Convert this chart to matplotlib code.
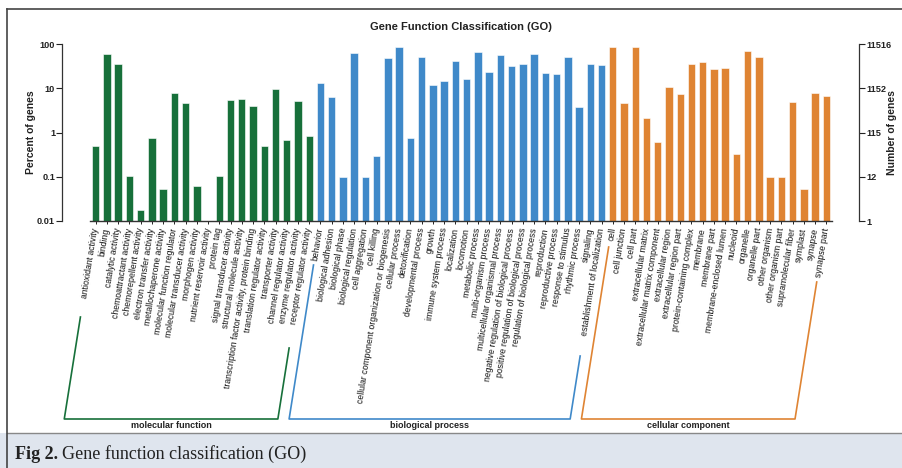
import numpy as np
import matplotlib
matplotlib.use('Agg')
import matplotlib.pyplot as plt
from matplotlib.lines import Line2D
from matplotlib.patches import Rectangle

plt.rcParams['font.family'] = ['Liberation Sans', 'DejaVu Sans']

# ---------------- data ----------------
mf_terms = ["antioxidant activity", "binding", "catalytic activity", "chemoattractant activity",
            "chemorepellent activity", "electron transfer activity", "metallochaperone activity",
            "molecular function regulator", "molecular transducer activity", "morphogen activity",
            "nutrient reservoir activity", "protein tag", "signal transducer activity",
            "structural molecule activity", "transcription factor activity, protein binding",
            "translation regulator activity", "transporter activity", "channel regulator activity",
            "enzyme regulator activity", "receptor regulator activity"]
mf_pct = [0.50, 59, 35, 0.105, 0.0174, 0.76, 0.053, 7.8, 4.6, 0.062,
          0.0, 0.105, 5.4, 5.8, 3.9, 0.49, 9.6, 0.68, 5.2, 0.82]

bp_terms = ["behavior", "biological adhesion", "biological phase", "biological regulation",
            "cell aggregation", "cell killing", "cellular component organization or biogenesis",
            "cellular process", "detoxification", "developmental process", "growth",
            "immune system process", "localization", "locomotion", "metabolic process",
            "multi-organism process", "multicellular organismal process",
            "negative regulation of biological process", "positive regulation of biological process",
            "regulation of biological process", "reproduction", "reproductive process",
            "response to stimulus", "rhythmic process", "signaling", "establishment of localization"]
bp_pct = [12.9, 6.3, 0.097, 64, 0.097, 0.30, 47.5, 85, 0.76, 51, 12.0, 14.4, 42, 16.5, 66,
          23.3, 56, 32, 35, 59, 21.7, 21, 51, 3.7, 35, 33.8]

cc_terms = ["cell", "cell junction", "cell part", "extracellular matrix",
            "extracellular matrix component", "extracellular region", "extracellular region part",
            "protein-containing complex", "membrane", "membrane part", "membrane-enclosed lumen",
            "nucleoid", "organelle", "organelle part", "other organism", "other organism part",
            "supramolecular fiber", "symplast", "synapse", "synapse part"]
cc_pct = [87, 4.6, 87, 2.1, 0.61, 10.8, 7.5, 35.7, 39.8, 27.7, 28.7, 0.32, 69, 51.6,
          0.097, 0.097, 5.0, 0.052, 7.9, 6.7]

groups = ["molecular function", "biological process", "cellular component"]
group_colors = ["#17703a", "#3f89c9", "#df8433"]
total_genes = 11516
pct_ticks = [0.01, 0.1, 1, 10, 100]
pct_tick_labels = ["0.01", "0.1", "1", "10", "100"]

# ---------------- figure ----------------
W, H = 902, 468
fig = plt.figure(figsize=(W / 100, H / 100), dpi=100)

def fx(px):
    return px / W

def fy(py):
    return 1 - py / H

# background panels
fig.add_artist(Rectangle((0, 0), 1, fy(433), transform=fig.transFigure,
                         facecolor="#dfe5ee", edgecolor="none", zorder=0))
fig.add_artist(Line2D([fx(7), 1], [fy(433), fy(433)], transform=fig.transFigure,
                      color="#888888", lw=1.0))
fig.add_artist(Line2D([fx(7), 1], [fy(9), fy(9)], transform=fig.transFigure,
                      color="#444444", lw=1.2))
fig.add_artist(Line2D([fx(7), fx(7)], [fy(9), 0], transform=fig.transFigure,
                      color="#444444", lw=1.2))

ax = fig.add_axes([fx(90), fy(221), fx(832) - fx(90), fy(44) - fy(221)])

terms = mf_terms + bp_terms + cc_terms
pcts = np.array(mf_pct + bp_pct + cc_pct, dtype=float)
sizes = [len(mf_terms), len(bp_terms), len(cc_terms)]
colors = []
for c, n in zip(group_colors, sizes):
    colors += [c] * n
x = np.arange(len(terms))

ymin, ymax = 0.01, 100
ax.set_yscale('log')
ax.set_ylim(ymin, ymax)
ax.set_xlim(-0.5, len(terms) - 0.5)
ax.bar(x, np.clip(pcts - ymin, 0, None), bottom=ymin, width=0.66,
       color=colors, edgecolor="white", linewidth=0.4)

for s in ["top", "right"]:
    ax.spines[s].set_visible(False)
ax.spines["left"].set_position(("outward", 28 * 0.72))
ax.spines["left"].set_color("#333333")
ax.spines["bottom"].set_color("#333333")
ax.spines["left"].set_linewidth(0.9)
ax.spines["bottom"].set_linewidth(1.0)

ax.set_yticks(pct_ticks)
ax.set_yticklabels(pct_tick_labels)
ax.minorticks_off()
ax.tick_params(axis='y', length=4, width=0.8, labelsize=6.6, pad=1, colors="#222222")
for t in ax.get_yticklabels():
    t.set_fontweight('bold')

ax.set_xticks(x)
ax.set_xticklabels(terms, rotation=81, ha='right', va='center', rotation_mode='anchor',
                   fontsize=6.2, color="#111111")
ax.tick_params(axis='x', length=2.5, width=0.6, pad=2.5)

ax2 = ax.twinx()
ax2.set_yscale('log')
ax2.set_ylim(ymin, ymax)
for s in ["top", "left", "bottom"]:
    ax2.spines[s].set_visible(False)
ax2.spines["right"].set_position(("outward", 27 * 0.72))
ax2.spines["right"].set_color("#333333")
ax2.spines["right"].set_linewidth(0.9)
ax2.set_yticks(pct_ticks)
ax2.set_yticklabels([str(int(round(total_genes * p / 100))) for p in pct_ticks])
ax2.minorticks_off()
ax2.tick_params(axis='y', length=4, width=0.8, labelsize=6.6, pad=1, colors="#222222")
for t in ax2.get_yticklabels():
    t.set_fontweight('bold')

mid_y = fy((44 + 221) / 2)
fig.text(fx(31), mid_y, "Percent of genes", rotation=90, ha='center', va='center',
         fontsize=7.5, fontweight='bold', color="#222222")
fig.text(fx(892), mid_y, "Number of genes", rotation=90, ha='center', va='center',
         fontsize=7.5, fontweight='bold', color="#222222")

fig.text(fx(461), fy(27), "Gene Function Classification (GO)", ha='center', va='center',
         fontsize=8, fontweight='bold', color="#222222")

# group brackets following the label slant
slope = 1 / np.tan(np.radians(81))
base_y = 221
bottom_y = 419
bracket_tops = [(317, 348), (265, 356), (247, 282)]

def bar_px(i):
    return ax.transData.transform((i, 1))[0]

def slant_x(i, ypx):
    return bar_px(i) - (ypx - base_y) * slope

start = 0
for name, col, n, (ytl, ytr) in zip(groups, group_colors, sizes, bracket_tops):
    i0, i1 = start, start + n - 1
    xs = [slant_x(i0, ytl), slant_x(i0, bottom_y), slant_x(i1, bottom_y), slant_x(i1, ytr)]
    ys = [ytl, bottom_y, bottom_y, ytr]
    fig.add_artist(Line2D([fx(v) for v in xs], [fy(v) for v in ys], transform=fig.transFigure,
                          color=col, lw=1.2))
    xc = (xs[1] + xs[2]) / 2
    fig.text(fx(xc), fy(425), name, ha='center', va='center', fontsize=6.5,
             fontweight='bold', color="#222222")
    start += n

# caption
renderer = fig.canvas.get_renderer()
t1 = fig.text(fx(15), fy(459), "Fig 2.", fontsize=13, fontweight='bold',
              family=['Liberation Serif', 'DejaVu Serif'], va='baseline', color="#222222")
bb = t1.get_window_extent(renderer=renderer)
fig.text(fx(bb.x1 + 4), fy(459), "Gene function classification (GO)", fontsize=13,
         family=['Liberation Serif', 'DejaVu Serif'], va='baseline', color="#222222")

fig.savefig("out.png", dpi=100)
